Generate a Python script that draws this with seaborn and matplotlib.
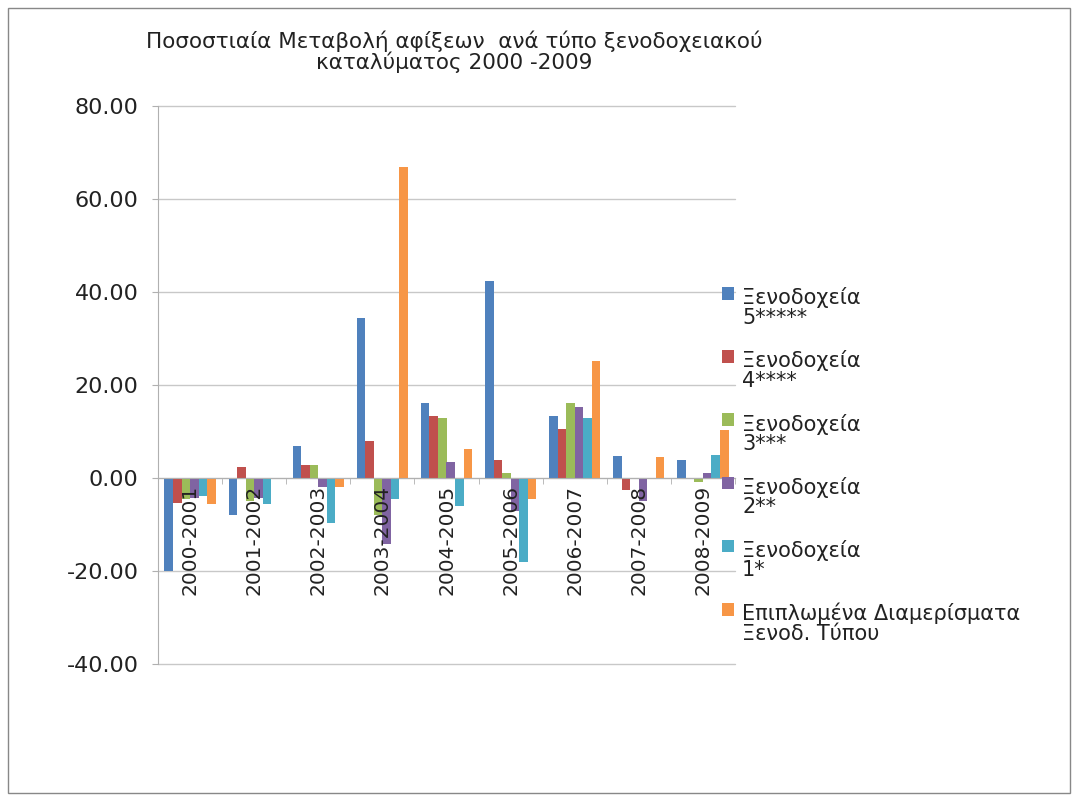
import pandas as pd
import matplotlib
matplotlib.use("Agg")
import matplotlib.pyplot as plt
import matplotlib.patches as mpatches
from matplotlib.legend_handler import HandlerPatch
from matplotlib.ticker import FormatStrFormatter, FixedLocator
import seaborn as sns

periods = ["2000-2001", "2001-2002", "2002-2003", "2003-2004", "2004-2005",
           "2005-2006", "2006-2007", "2007-2008", "2008-2009"]
series_names = ["Ξενοδοχεία\n5*****", "Ξενοδοχεία\n4****", "Ξενοδοχεία\n3***",
                "Ξενοδοχεία\n2**", "Ξενοδοχεία\n1*",
                "Επιπλωμένα Διαμερίσματα\nΞενοδ. Τύπου"]

hotel_5 = [-20.0, -7.9, 6.8, 34.4, 16.1, 42.3, 13.3, 4.8, 3.8]
hotel_4 = [-5.3, 2.3, 2.7, 8.0, 13.3, 3.8, 10.6, -2.6, -0.3]
hotel_3 = [-4.5, -5.0, 2.7, -8.0, 13.0, 1.0, 16.2, -0.2, -0.9]
hotel_2 = [-4.2, -4.2, -1.9, -14.3, 3.5, -7.0, 15.3, -4.9, 1.0]
hotel_1 = [-3.9, -5.5, -9.6, -4.5, -6.1, -18.0, 12.9, -0.2, 5.0]
apartments = [-5.6, -0.2, -1.9, 66.9, 6.2, -4.6, 25.2, 4.6, 10.4]

colors = ["#4F81BD", "#C0504D", "#9BBB59", "#8064A2", "#4BACC6", "#F79646"]

rows = []
for name, vals in zip(series_names, [hotel_5, hotel_4, hotel_3, hotel_2, hotel_1, apartments]):
    for p, v in zip(periods, vals):
        rows.append({"period": p, "series": name, "value": v})
df = pd.DataFrame(rows)

sns.set_style("white")
plt.rcParams["font.family"] = ["DejaVu Sans"]

fig = plt.figure(figsize=(10.78, 8.01), dpi=100)
ax = fig.add_axes([158 / 1078, 1 - 664 / 801, (735 - 158) / 1078, (664 - 106) / 801])

sns.barplot(data=df, x="period", y="value", hue="series", palette=colors,
            saturation=1, width=0.8, ax=ax, errorbar=None, linewidth=0)

ax.set_ylim(-40, 80)
ax.set_yticks(range(-40, 81, 20))
ax.yaxis.set_major_formatter(FormatStrFormatter("%.2f"))
ax.yaxis.grid(True, color="#c8c8c8", linewidth=1)
for gl in ax.get_ygridlines():
    gl.set_clip_on(False)
ax.set_axisbelow(True)
ax.set_xlabel("")
ax.set_ylabel("")

for s in ["top", "right"]:
    ax.spines[s].set_visible(False)
ax.spines["left"].set_color("#b0b0b0")
ax.spines["bottom"].set_color("#b0b0b0")
ax.spines["bottom"].set_position(("data", 0))

ax.tick_params(axis="y", labelsize=16, colors="#b0b0b0", labelcolor="#222222",
               length=4, left=True, direction="out", pad=10)
ax.tick_params(axis="x", which="major", length=0, labelbottom=False)
ax.xaxis.set_minor_locator(FixedLocator([i - 0.5 for i in range(len(periods) + 1)]))
ax.tick_params(axis="x", which="minor", length=4, color="#b0b0b0", bottom=True)

# category labels drawn above the bars, like the original
for i, p in enumerate(periods):
    ax.text(i, -1.4, p, rotation=90, ha="center", va="top", fontsize=14.5,
            color="#222222", zorder=5)


def raised_patch(legend, orig_handle, xdescent, ydescent, width, height, fontsize):
    return mpatches.Rectangle((-xdescent, -ydescent + 0.7 * fontsize), width, height)


handles, labels = ax.get_legend_handles_labels()
ax.legend(handles, labels, loc="upper left", bbox_to_anchor=(714 / 1078, 1 - 279 / 801),
          bbox_transform=fig.transFigure, frameon=False, fontsize=15,
          handlelength=0.55, handleheight=0.55, handletextpad=0.4,
          labelspacing=1.1, borderaxespad=0,
          handler_map={mpatches.Rectangle: HandlerPatch(patch_func=raised_patch)})
for t in ax.get_legend().get_texts():
    t.set_linespacing(0.95)
    t.set_color("#222222")

fig.text(0.421, 1 - 30 / 801,
         "Ποσοστιαία Μεταβολή αφίξεων  ανά τύπο ξενοδοχειακού\nκαταλύματος 2000 -2009",
         ha="center", va="top", fontsize=15.5, linespacing=1.0, color="#222222")

fig.patches.append(mpatches.Rectangle((8 / 1078, 8 / 801), 1062 / 1078, 785 / 801,
                                      transform=fig.transFigure, fill=False,
                                      edgecolor="#888888", linewidth=1))

fig.savefig("out.png", dpi=100)
plt.close(fig)
